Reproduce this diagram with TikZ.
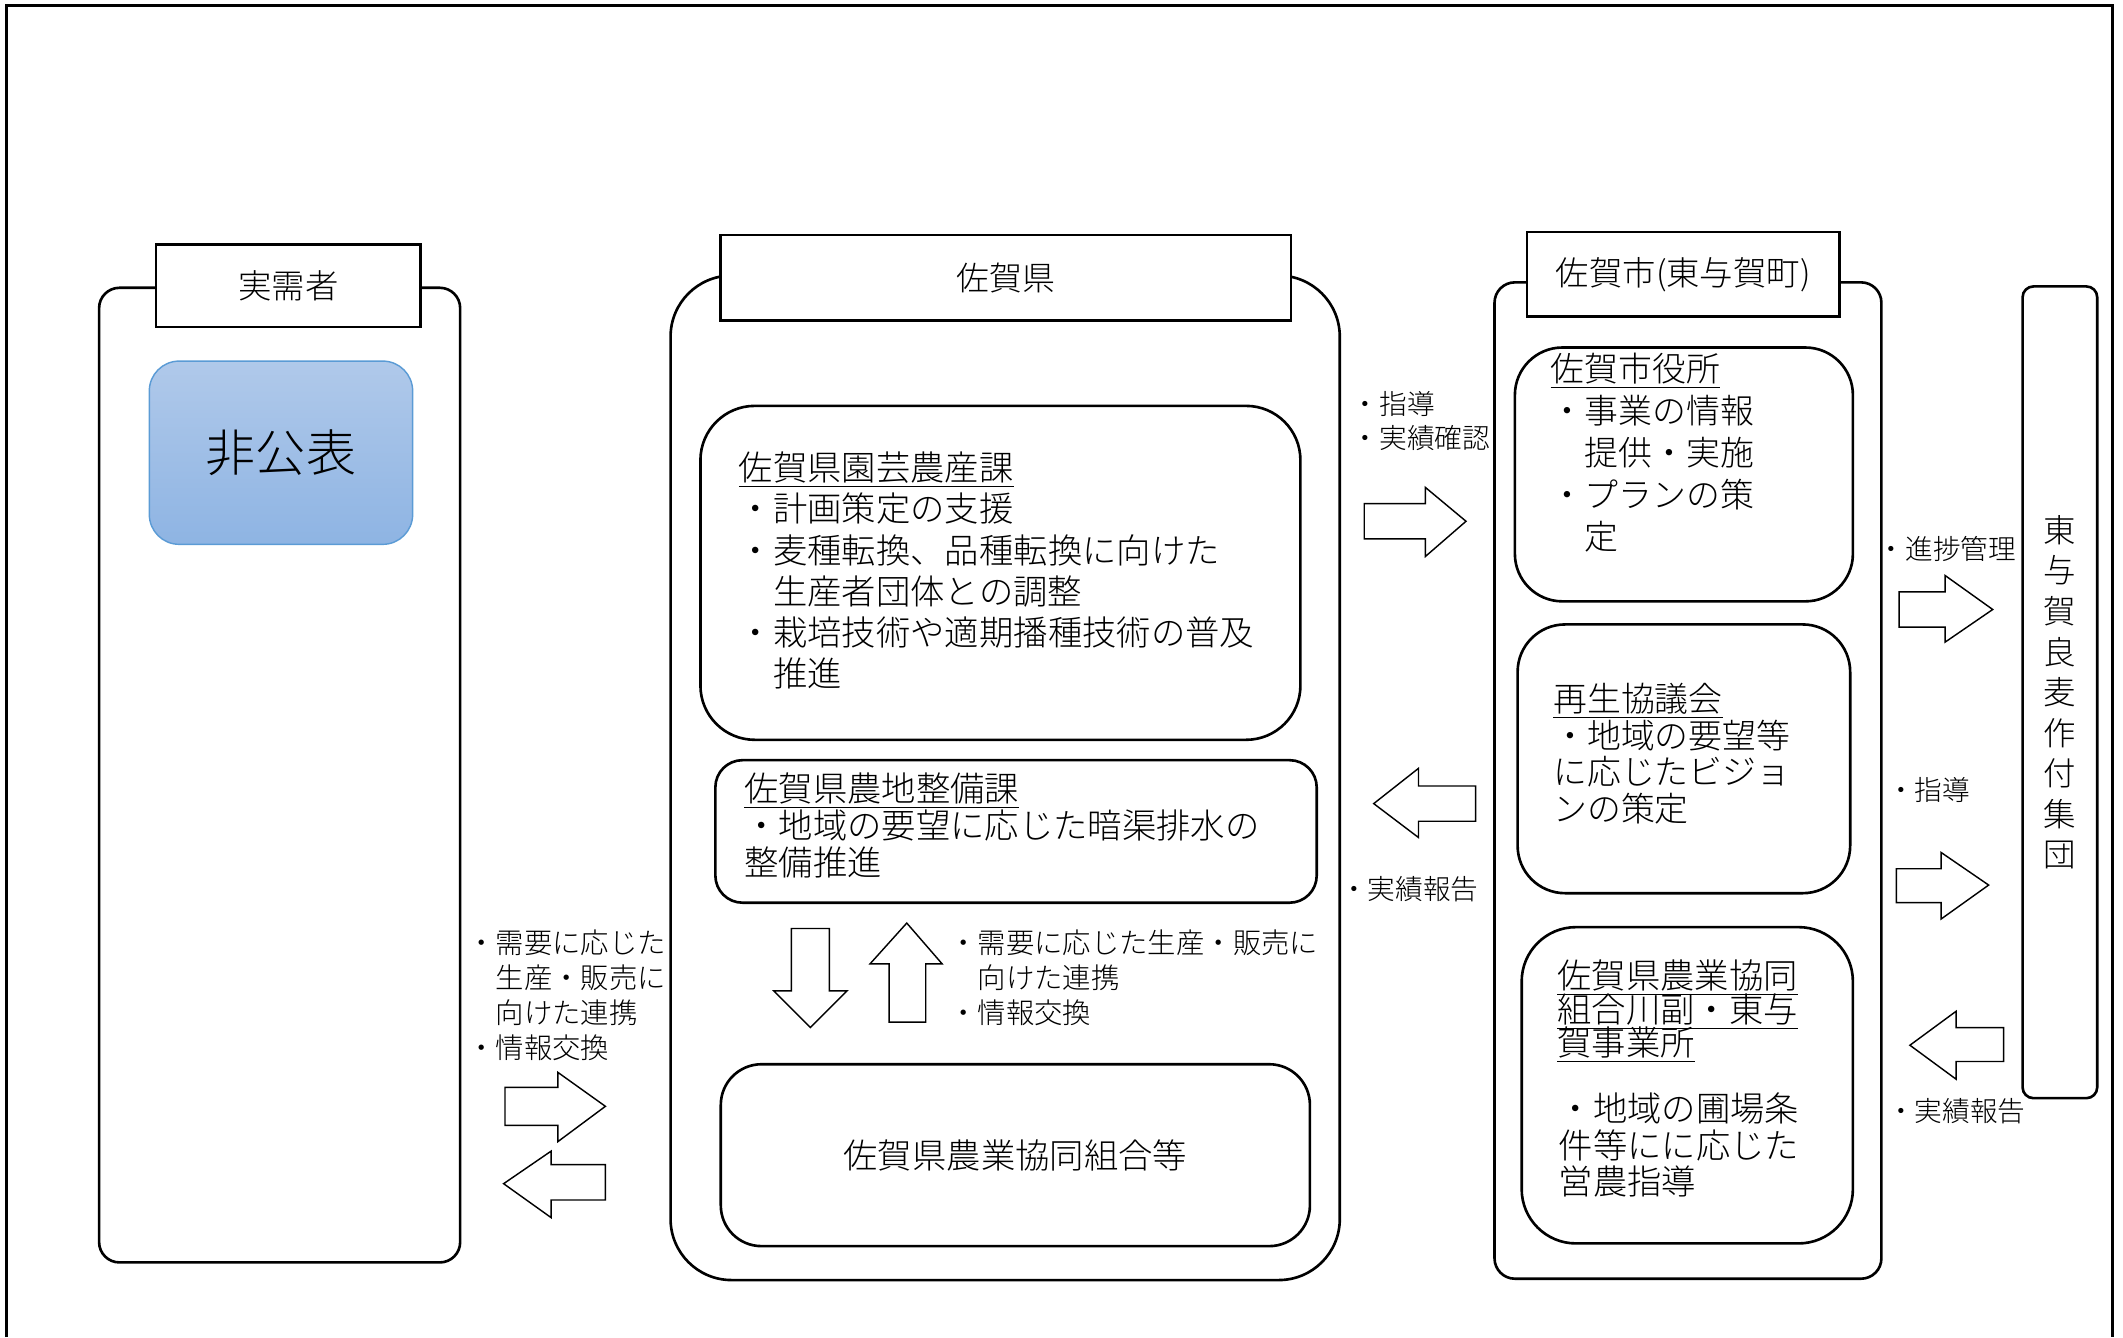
\documentclass[tikz,border=0pt]{standalone}
\usepackage{fontspec}
\setmainfont{Noto Sans CJK JP}[UprightFont={* Light}]
\definecolor{pubtop}{HTML}{B0C9EA}
\definecolor{pubbot}{HTML}{8EB4E3}
\definecolor{publine}{HTML}{5B9BD5}
\newcommand{\px}{0.02cm}
\newcommand{\jfont}[2]{\fontsize{#1}{#2}\selectfont\lineskiplimit=-100pt}

\begin{document}
\begin{tikzpicture}[x=0.02cm, y=-0.02cm,
    panel/.style={draw, line width=1.1pt, rectangle, inner sep=0pt},
    headbox/.style={draw, line width=1.1pt, fill=white, inner sep=0pt, font=\jfont{14}{17}},
    boxtext/.style={anchor=north west, inner sep=0pt, align=left},
    note/.style={anchor=north west, inner sep=0pt, align=left, font=\jfont{11.9}{14.7}},
    blockarrow/.style={draw, line width=0.6pt, fill=white, line join=miter}]
    \useasboundingbox (0,0) rectangle (1564,985);
    \draw[line width=1.2pt] (5,985) -- (5,4) -- (1556,4) -- (1556,985);
    % users
    \node[panel, rounded corners=0.3cm, minimum width=266*\px, minimum height=718*\px] (users) at (206,571) {};
    \node[headbox, minimum width=195*\px, minimum height=61*\px] (usershead) at (212.5,210.5) {実需者};
    \node[draw=publine, line width=0.6pt, top color=pubtop, bottom color=pubbot, rounded corners=0.44cm,
      minimum width=194*\px, minimum height=135*\px, font=\jfont{21}{25}] (closed) at (207,333.5) {非公表};
    % prefecture
    \node[panel, rounded corners=0.9cm, minimum width=493*\px, minimum height=740*\px] (pref) at (740.5,573) {};
    \node[headbox, minimum width=420*\px, minimum height=63*\px, font=\jfont{13.8}{17}] (prefhead) at (741,204.5) {佐賀県};
    \node[panel, rounded corners=0.8cm, minimum width=442*\px, minimum height=246*\px] (engei) at (737,422) {};
    \node[boxtext, font=\jfont{14.4}{17.3}] (engeitext) at (544,332.5)
      {\underline{佐賀県園芸農産課}\\・計画策定の支援\\・麦種転換、品種転換に向けた\\　生産者団体との調整\\・栽培技術や適期播種技術の普及\\　推進};
    \node[panel, rounded corners=0.4cm, minimum width=443*\px, minimum height=105*\px] (nochi) at (748.5,612.5) {};
    \node[boxtext, font=\jfont{14.4}{15.6}] (nochitext) at (548,569)
      {\underline{佐賀県農地整備課}\\・地域の要望に応じた暗渠排水の\\整備推進};
    \node[panel, rounded corners=0.6cm, minimum width=434*\px, minimum height=134*\px, font=\jfont{14.4}{17}] (nokyo) at (748,851) {佐賀県農業協同組合等};
    % city
    \node[panel, rounded corners=0.3cm, minimum width=285*\px, minimum height=734*\px] (city) at (1243.5,575) {};
    \node[headbox, minimum width=230*\px, minimum height=62*\px] (cityhead) at (1240,202) {佐賀市(東与賀町)};
    \node[panel, rounded corners=0.7cm, minimum width=249*\px, minimum height=187*\px] (office) at (1240.5,349.5) {};
    \node[boxtext, font=\jfont{14.2}{17.6}] (officetext) at (1142,260)
      {\underline{佐賀市役所}\\・事業の情報\\　提供・実施\\・プランの策\\　定};
    \node[panel, rounded corners=0.7cm, minimum width=245*\px, minimum height=198*\px] (council) at (1240.5,559) {};
    \node[boxtext, font=\jfont{14.2}{15.3}] (counciltext) at (1144,503)
      {\underline{再生協議会}\\・地域の要望等\\に応じたビジョ\\ンの策定};
    \node[panel, rounded corners=0.8cm, minimum width=244*\px, minimum height=233*\px] (branch) at (1243,799.5) {};
    \node[boxtext, font=\jfont{14.4}{13.9}] (branchtitle) at (1147,707)
      {\underline{佐賀県農業協同}\\\underline{組合川副・東与}\\\underline{賀事業所}};
    \node[boxtext, font=\jfont{14.4}{15.3}] (branchtext) at (1148,805)
      {・地域の圃場条\\件等にに応じた\\営農指導};
    % growers group
    \node[panel, rounded corners=0.16cm, minimum width=55*\px, minimum height=598*\px, align=center, font=\jfont{13.6}{17}] (group) at (1517.5,510)
      {東\\与\\賀\\良\\麦\\作\\付\\集\\団};
    % users <-> prefecture
    \draw[blockarrow] (372,801) -- (411,801) -- (411,790) -- (446,815) -- (411,841) -- (411,829) -- (372,829) -- cycle;
    \draw[blockarrow] (446,858) -- (406,858) -- (406,848) -- (371,872) -- (406,897) -- (406,884) -- (446,884) -- cycle;
    \node[note] (userslabel) at (344,684.5) {・需要に応じた\\　生産・販売に\\　向けた連携\\・情報交換};
    % prefecture <-> JA
    \draw[blockarrow] (583,684) -- (611,684) -- (611,730) -- (624,730) -- (597,757) -- (570,730) -- (583,730) -- cycle;
    \draw[blockarrow] (655,753) -- (655,710) -- (641,710) -- (668,680) -- (694,710) -- (682,710) -- (682,753) -- cycle;
    \node[note] (jalabel) at (699,684.5) {・需要に応じた生産・販売に\\　向けた連携\\・情報交換};
    % prefecture <-> city
    \draw[blockarrow] (1005,371) -- (1050,371) -- (1050,359) -- (1080,384) -- (1050,410) -- (1050,397) -- (1005,397) -- cycle;
    \draw[blockarrow] (1087,579) -- (1045,579) -- (1045,566) -- (1012,592) -- (1045,617) -- (1045,605) -- (1087,605) -- cycle;
    \node[note, font=\jfont{11.6}{14.2}] (guidelabel) at (995.5,288) {・指導\\・実績確認};
    \node[note, font=\jfont{11.6}{14.2}] (reportlabel) at (987,645) {・実績報告};
    % city <-> group
    \draw[blockarrow] (1399,436) -- (1433,436) -- (1433,424) -- (1468,449) -- (1433,473) -- (1433,462) -- (1399,462) -- cycle;
    \draw[blockarrow] (1397,640) -- (1430,640) -- (1430,628) -- (1465,652) -- (1430,677) -- (1430,665) -- (1397,665) -- cycle;
    \draw[blockarrow] (1476,757) -- (1441,757) -- (1441,745) -- (1407,770) -- (1441,795) -- (1441,782) -- (1476,782) -- cycle;
    \node[note, font=\jfont{11.6}{14.2}] (progresslabel) at (1383,395) {・進捗管理};
    \node[note, font=\jfont{11.6}{14.2}] (guide2label) at (1390,572) {・指導};
    \node[note, font=\jfont{11.6}{14.2}] (report2label) at (1390,809) {・実績報告};
\end{tikzpicture}
\end{document}
